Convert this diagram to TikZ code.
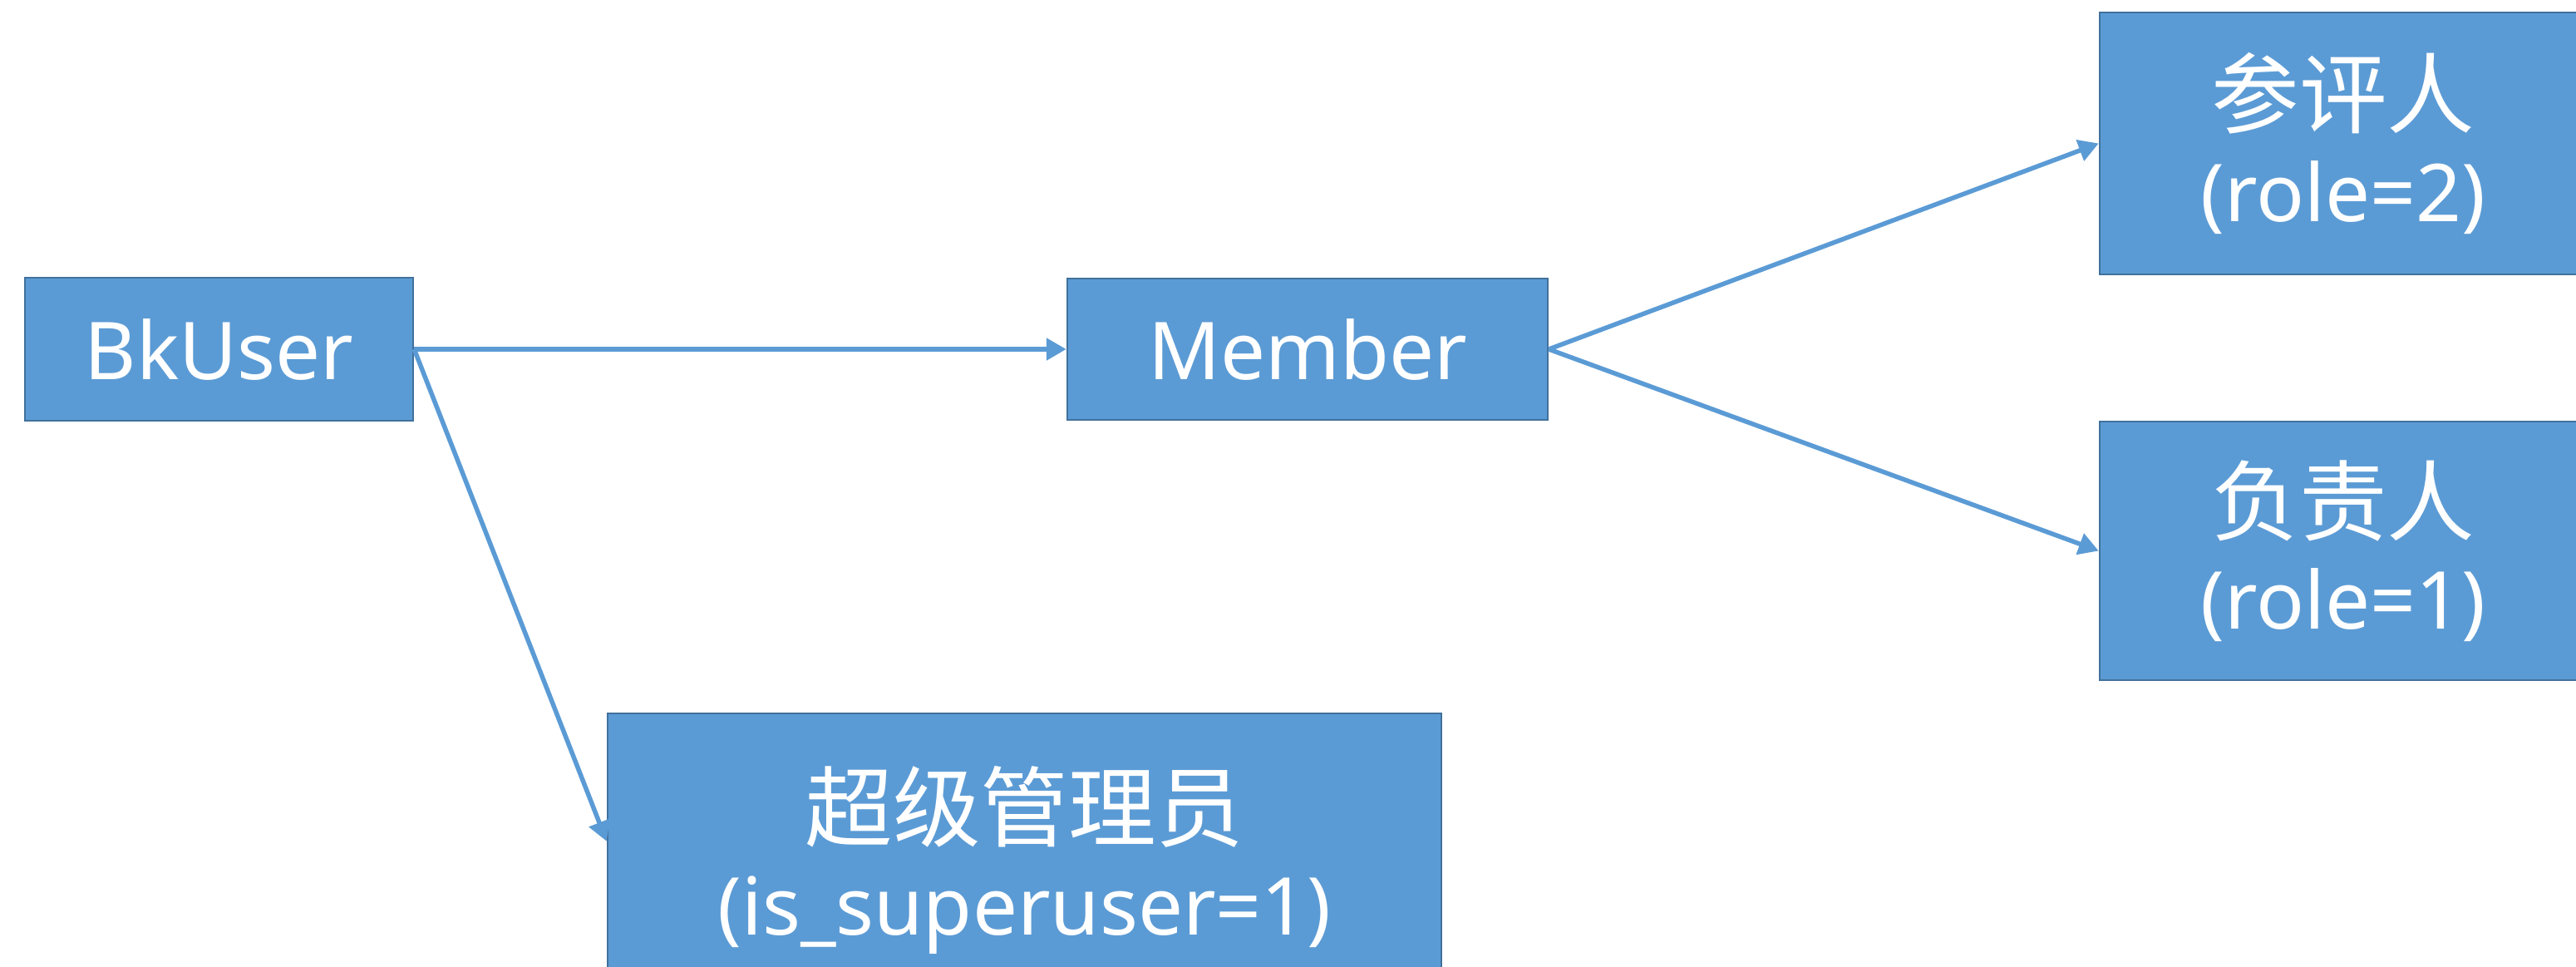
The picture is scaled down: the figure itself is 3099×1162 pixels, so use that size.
\documentclass[tikz,border=0pt]{standalone}
\usepackage{fontspec}
\setmainfont{Noto Sans}
\newfontfamily\cjk[Scale=1.1]{Noto Sans CJK SC}
\usetikzlibrary{arrows.meta,calc}
\definecolor{boxfill}{HTML}{5B9BD5}
\definecolor{boxline}{HTML}{41719C}
\begin{document}
\begin{tikzpicture}[x=1pt,y=-1pt,
  box/.style={draw=boxline, line width=2.5pt, fill=boxfill, text=white, inner sep=0pt, align=center, font=\fontsize{96}{114}\selectfont},
  conn/.style={draw=boxfill, line width=5.5pt, -{Triangle[length=24pt,width=26pt]}}]
\useasboundingbox (0,0) rectangle (3099,1162);
\clip (0,0) rectangle (3099,1162);
\node[box, minimum width=467pt, minimum height=172pt] (bk) at (263.5,420) {BkUser};
\node[box, minimum width=578pt, minimum height=170pt] (mem) at (1573,420) {Member};
\node[box, minimum width=586pt, minimum height=315pt] (rev) at (2819,172.5) {{\cjk 参评人}\\(role=2)};
\node[box, minimum width=586pt, minimum height=311pt] (lead) at (2819,662.5) {{\cjk 负责人}\\(role=1)};
\node[box, minimum width=1003pt, minimum height=352pt] (su) at (1232.5,1034) {{\cjk 超级管理员}\\(is\_superuser=1)};
\coordinate (suin) at ($(su.north west)+(0,155)$);
\draw[conn] (bk.east) -- (mem.west);
\draw[conn] (bk.east) -- (suin);
\draw[conn] (mem.east) -- (rev.west);
\draw[conn] (mem.east) -- (lead.west);
\end{tikzpicture}
\end{document}
